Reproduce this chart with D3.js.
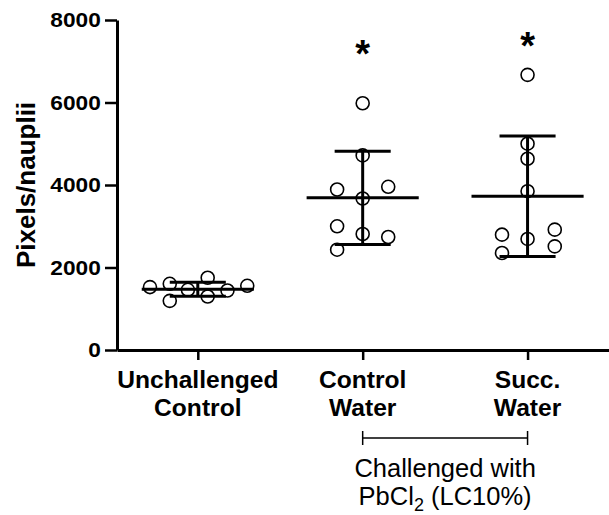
<!DOCTYPE html>
<html>
<head>
<meta charset="utf-8">
<script src="https://cdn.jsdelivr.net/npm/d3@7"></script>
<style>
  body { margin: 0; background: #fff; }
  svg { display: block; font-family: 'Liberation Sans', Arial, sans-serif; }
</style>
</head>
<body>
<div id="chart"></div>
<script>
// data
const groups = [['Unchallenged', 'Control'], ['Control', 'Water'], ['Succ.', 'Water']]
const unchallenged = [1525, 1605, 1191, 1459, 1751, 1297, 1442, 1556]
const controlWater = [5982, 4717, 3891, 3956, 3672, 2999, 2813, 2740, 2432]
const succWater = [6670, 5002, 4637, 3850, 2796, 2692, 2918, 2512, 2351]
// horizontal jitter of each point, in group units
const jitterA = [-0.29, -0.17, -0.17, -0.06, 0.06, 0.06, 0.18, 0.3]
const jitterB = [0, 0, -0.155, 0.155, 0, -0.155, 0, 0.155, -0.155]
const jitterC = [0, 0, 0, 0, -0.155, 0, 0.165, 0.165, -0.155]
const means = [1475, 3688, 3728]
const sds = [170, 1130, 1460]
// level (in y units) where the significance star sits, null = none
const starLevels = [null, 6850, 7050]
const yTicks = [0, 2000, 4000, 6000, 8000]

const series = [unchallenged, controlWater, succWater]
const jitters = [jitterA, jitterB, jitterC]

const W = 609, H = 515
const font = "'Liberation Sans', Arial, sans-serif"

const svg = d3.select('#chart').append('svg')
  .attr('width', W)
  .attr('height', H)

const x = d3.scaleLinear().domain([-0.49, 2.5]).range([117, 610])
const y = d3.scaleLinear().domain([0, 8000]).range([350, 20])

// y axis
const yAxis = svg.append('g')
  .attr('transform', 'translate(' + x(-0.49) + ',0)')
  .call(d3.axisLeft(y).tickValues(yTicks).tickFormat(d3.format('d'))
    .tickSize(12).tickSizeOuter(0).tickPadding(3))
yAxis.select('.domain').attr('stroke-width', 3)
yAxis.selectAll('.tick line').attr('stroke-width', 2.5)
yAxis.selectAll('.tick text')
  .attr('font-size', 21).attr('font-weight', 'bold').attr('fill', '#000')
  .attr('font-family', font)
  .attr('transform', 'scale(1.08,1)')

svg.append('text')
  .attr('transform', 'translate(35,' + y(4000) + ') rotate(-90)')
  .attr('text-anchor', 'middle')
  .attr('font-size', 26)
  .attr('font-weight', 'bold')
  .text('Pixels/nauplii')

// x axis
const xAxis = svg.append('g')
  .attr('transform', 'translate(0,' + y(0) + ')')
  .call(d3.axisBottom(x).tickValues([0, 1, 2]).tickSize(10).tickSizeOuter(0).tickFormat(''))
xAxis.select('.domain').attr('stroke-width', 3)
xAxis.selectAll('.tick line').attr('stroke-width', 2.5)

groups.forEach((lines, i) => {
  const t = svg.append('text')
    .attr('transform', 'translate(' + x(i) + ',0) scale(1.07,1)')
    .attr('text-anchor', 'middle')
    .attr('font-size', 23)
    .attr('font-weight', 'bold')
  lines.forEach((s, j) => {
    t.append('tspan')
      .attr('x', 0)
      .attr('y', 388 + j * 28.5)
      .text(s)
  })
})

// points
series.forEach((vals, i) => {
  svg.append('g').selectAll('circle')
    .data(vals)
    .enter().append('circle')
      .attr('cx', (d, k) => x(i + jitters[i][k]))
      .attr('cy', d => y(d))
      .attr('r', 6.5)
      .attr('fill', 'none')
      .attr('stroke', '#000')
      .attr('stroke-width', 1.6)
})

// mean and SD
const summary = svg.append('g').attr('stroke', '#000').attr('stroke-width', 3)
means.forEach((m, i) => {
  summary.append('line')
    .attr('x1', x(i - 0.34)).attr('x2', x(i + 0.34))
    .attr('y1', y(m)).attr('y2', y(m))
  summary.append('line')
    .attr('x1', x(i)).attr('x2', x(i))
    .attr('y1', y(m + sds[i])).attr('y2', y(m - sds[i]))
  ;[m + sds[i], m - sds[i]].forEach(v => {
    summary.append('line')
      .attr('x1', x(i - 0.17)).attr('x2', x(i + 0.17))
      .attr('y1', y(v)).attr('y2', y(v))
  })
})

// significance stars
starLevels.forEach((s, i) => {
  if (s === null) return
  svg.append('text')
    .attr('x', x(i))
    .attr('y', y(s))
    .attr('text-anchor', 'middle')
    .attr('font-size', 38)
    .attr('font-weight', 'bold')
    .text('*')
})

// bracket for challenged groups
const bracketY = 438
const bracket = svg.append('g').attr('stroke', '#000').attr('stroke-width', 1.5)
bracket.append('line')
  .attr('x1', x(1)).attr('x2', x(2))
  .attr('y1', bracketY).attr('y2', bracketY)
;[1, 2].forEach(i => {
  bracket.append('line')
    .attr('x1', x(i)).attr('x2', x(i))
    .attr('y1', bracketY - 7).attr('y2', bracketY + 7)
})

const note = svg.append('text')
  .attr('text-anchor', 'middle')
  .attr('font-size', 25.5)
note.append('tspan')
  .attr('x', x(1.5)).attr('y', 477)
  .text('Challenged with')
const line2 = svg.append('text')
  .attr('x', x(1.5)).attr('y', 505)
  .attr('text-anchor', 'middle')
  .attr('font-size', 25.5)
line2.append('tspan').text('PbCl')
line2.append('tspan').attr('font-size', 18).attr('dy', 6).text('2')
line2.append('tspan').attr('dy', -6).text(' (LC10%)')
</script>
</body>
</html>
